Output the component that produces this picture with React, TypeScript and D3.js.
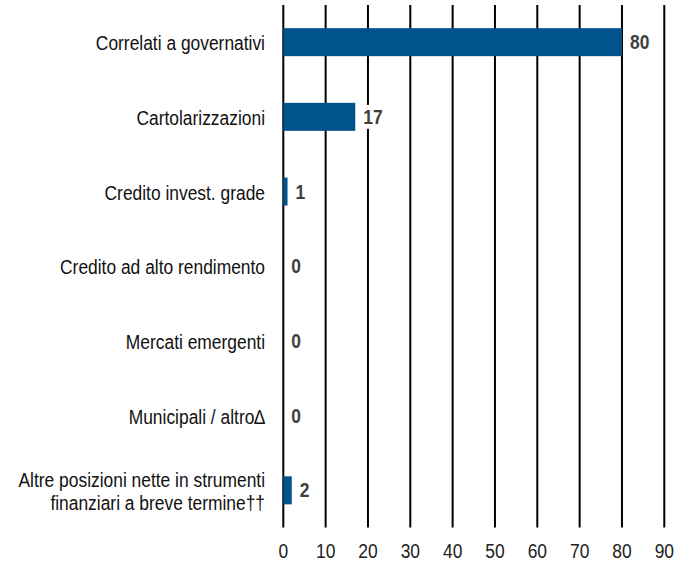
import React from "react";
import * as d3 from "d3";

const categories = [
  "Correlati a governativi",
  "Cartolarizzazioni",
  "Credito invest. grade",
  "Credito ad alto rendimento",
  "Mercati emergenti",
  "Municipali / altro∆",
  "Altre posizioni nette in strumenti\nfinanziari a breve termine††",
];
const values = [80, 17, 1, 0, 0, 0, 2];
const ticks = [0, 10, 20, 30, 40, 50, 60, 70, 80, 90];

const W = 691;
const H = 564;
const FONT = "'Liberation Sans', Arial, sans-serif";
const SX = 0.87;

function T(props: { x: number; y: number; anchor?: string; bold?: boolean; fill: string; children: React.ReactNode }) {
  return (
    <g transform={`translate(${props.x},${props.y}) scale(${SX},1)`}>
      <text x={0} y={0} textAnchor={props.anchor || "start"} fontFamily={FONT} fontSize={20} fontWeight={props.bold ? "bold" : "normal"} fill={props.fill}>
        {props.children}
      </text>
    </g>
  );
}

export default function App() {
  const x = d3.scaleLinear().domain([0, 90]).range([283.3, 664.3]);
  const y = d3.scaleBand<string>().domain(categories).range([5, 527.5]).paddingInner(0.625).paddingOuter(0.31);
  return (
    <svg width={W} height={H} style={{ position: "absolute", left: 0, top: 0, background: "#fff" }}>
      {ticks.map((t) => (
        <g key={t}>
          <line x1={x(t)} x2={x(t)} y1={5} y2={527.5} stroke="#000" strokeWidth={2} />
          <T x={x(t)} y={558} anchor="middle" fill="#222">{t}</T>
        </g>
      ))}
      {categories.map((c, i) => {
        const yc = (y(c) as number) + y.bandwidth() / 2;
        const lines = c.split("\n");
        const v = values[i];
        return (
          <g key={c}>
            <rect x={x(0)} y={y(c)} width={x(v) - x(0)} height={y.bandwidth()} fill="#00538B" />
            <rect x={x(v) + 4} y={yc - 12} width={v >= 10 ? 24 : 14} height={24} fill="#fff" />
            <T x={x(v) + 8} y={yc + 7} bold fill="#404040">{v}</T>
            {lines.map((l, k) => (
              <T key={k} x={265} y={yc + 8 + (k - (lines.length - 1) / 2) * 23} anchor="end" fill="#111">{l}</T>
            ))}
          </g>
        );
      })}
    </svg>
  );
}
